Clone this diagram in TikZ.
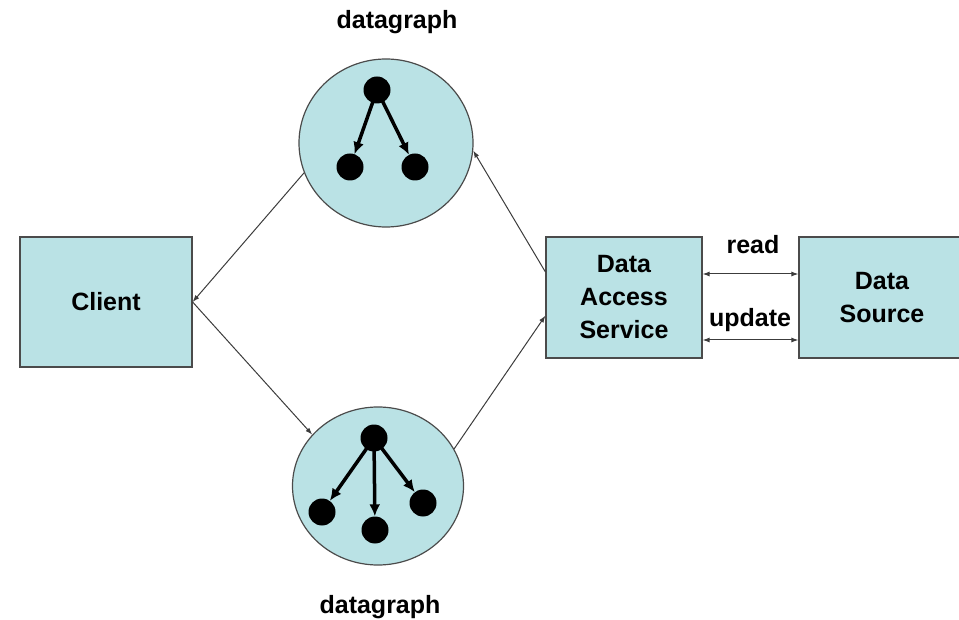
\documentclass[tikz,border=0pt]{standalone}
\usepackage{fontspec}
\setmainfont{Liberation Sans}
\usetikzlibrary{arrows.meta}
\usetikzlibrary{shapes.geometric}
\definecolor{boxfill}{RGB}{186,226,229}
\definecolor{boxline}{RGB}{75,75,75}
\definecolor{linkline}{RGB}{60,60,60}
\begin{document}
\begin{tikzpicture}[x=1pt,y=-1pt]
	\tikzstyle{boite}=[rectangle,draw=boxline,line width=1.2pt,fill=boxfill,align=center,font=\fontsize{25}{33}\selectfont\bfseries]
	\tikzstyle{graphe}=[ellipse,draw=boxline,line width=1.2pt,fill=boxfill,inner sep=0pt]
	\tikzstyle{point}=[circle,fill=black,inner sep=0pt,minimum size=27pt]
	\tikzstyle{titre}=[font=\fontsize{25}{30}\selectfont\bfseries]
	\tikzstyle{lien}=[draw=linkline,line width=1pt,-{Latex[length=7pt,width=5pt]}]
	\tikzstyle{double}=[draw=linkline,line width=1pt,{Latex[length=7pt,width=5pt]}-{Latex[length=7pt,width=5pt]}]
	\tikzstyle{fleche}=[draw=black,line width=3.5pt,-{Latex[length=12pt,width=11pt]},shorten <=-2pt]
	\useasboundingbox (0,0) rectangle (959,620);
	\node[boite,minimum width=172pt,minimum height=130pt] (client) at (106,302){Client};
	\node[boite,minimum width=156pt,minimum height=121pt] (das) at (624,297.5){Data\\Access\\Service};
	\node[boite,minimum width=166pt,minimum height=121pt] (ds) at (882,297.5){Data\\Source};
	\node[graphe,minimum width=174pt,minimum height=168pt] (haut) at (386,143){};
	\node[graphe,minimum width=171pt,minimum height=158pt] (bas) at (378,486){};
	\node[titre] (titrehaut) at (397,22){datagraph};
	\node[titre] (titrebas) at (380,607){datagraph};
	\node[point] (h1) at (377,90){};
	\node[point] (h2) at (350,167){};
	\node[point] (h3) at (415,167){};
	\node[point] (b1) at (374,438){};
	\node[point] (b2) at (322,512){};
	\node[point] (b3) at (375,530){};
	\node[point] (b4) at (423,503){};
	\draw[fleche] (h1) -- (h2);
	\draw[fleche] (h1) -- (h3);
	\draw[fleche] (b1) -- (b2);
	\draw[fleche] (b1) -- (b3);
	\draw[fleche] (b1) -- (b4);
	\draw[lien] (haut.200) -- (client.east);
	\draw[lien] (client.east) -- (bas.142);
	\draw[lien] (bas.26) -- (das.193);
	\draw[lien] (das.162) -- (haut.355);
	\draw[double] ([yshift=23.5pt]das.east) -- ([yshift=23.5pt]ds.west);
	\draw[double] ([yshift=-42.5pt]das.east) -- ([yshift=-42.5pt]ds.west);
	\node[titre] (lire) at (753,245){read};
	\node[titre] (maj) at (750,320){update};
\end{tikzpicture}
\end{document}
